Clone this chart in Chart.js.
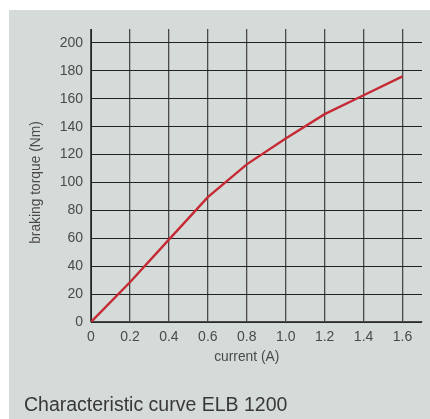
<!DOCTYPE html>
<html>
<head>
<meta charset="utf-8">
<script src="https://cdn.jsdelivr.net/npm/chart.js@4.4.1/dist/chart.umd.min.js"></script>
<style>
  html, body { margin: 0; padding: 0; background: #fff; }
  body { width: 430px; height: 419px; position: relative; overflow: hidden; }
  #panel { position: absolute; left: 9px; top: 10px; width: 421px; height: 409px; background: #d5dbd9; }
  #chart { position: absolute; left: 0; top: 0; }
</style>
</head>
<body>
<div id="panel"></div>
<canvas id="chart" width="430" height="419"></canvas>
<script>
// ELB 1200 braking torque vs. coil current

const currents = [0, 0.2, 0.4, 0.6, 0.8, 1.0, 1.2, 1.4, 1.6];
const torques = [0, 28.5, 59, 89.5, 113, 131.5, 149, 162.5, 176];
const xTicks = [0, 0.2, 0.4, 0.6, 0.8, 1.0, 1.2, 1.4, 1.6];
const yTicks = [0, 20, 40, 60, 80, 100, 120, 140, 160, 180, 200];

const FONT = "'Liberation Sans', Arial, sans-serif";
const TEXT = "#4a4a4a";

// axis titles and caption drawn on the canvas, centred on the labelled range
const labelsPlugin = {
    id: "labels",
    afterDraw(chart) {
        const { ctx, scales } = chart;
        const x = scales.x, y = scales.y;
        ctx.save();
        ctx.fillStyle = TEXT;
        ctx.font = "13.8px " + FONT;
        ctx.textAlign = "center";
        ctx.textBaseline = "middle";
        ctx.fillText("current (A)", x.getPixelForValue(0.8), 357);
        ctx.translate(36, y.getPixelForValue(100));
        ctx.rotate(-Math.PI / 2);
        ctx.fillText("braking torque (Nm)", 0, 0);
        ctx.restore();

        ctx.save();
        ctx.fillStyle = "#383838";
        ctx.font = "19.5px " + FONT;
        ctx.textAlign = "left";
        ctx.textBaseline = "alphabetic";
        ctx.fillText("Characteristic curve ELB 1200", 24, 411);
        ctx.restore();
    }
};

new Chart(document.getElementById("chart"), {
    type: "line",
    data: {
        labels: currents,
        datasets: [{
            data: currents.map((c, i) => ({ x: c, y: torques[i] })),
            borderColor: "#c62a35",
            borderWidth: 2.4,
            pointRadius: 0,
            tension: 0,
            fill: false,
        }]
    },
    options: {
        responsive: false,
        animation: false,
        layout: { padding: { left: 0, top: 29, right: 8, bottom: 0 } },
        plugins: { legend: { display: false }, tooltip: { enabled: false } },
        scales: {
            x: {
                type: "linear",
                min: 0,
                max: 1.7,
                afterBuildTicks: (s) => { s.ticks = xTicks.map(v => ({ value: v })); },
                afterFit: (s) => { s.height = 97; },
                ticks: {
                    padding: 7,
                    color: TEXT,
                    font: { family: FONT, size: 14 },
                    maxRotation: 0,
                    callback: (v) => v === 0 ? "0" : Number(v).toFixed(1),
                },
                grid: { color: "#4a4a4a", lineWidth: 1.3, drawTicks: false },
                border: { color: "#4a4a4a", width: 1.3 },
            },
            y: {
                min: 0,
                max: 210,
                afterBuildTicks: (s) => { s.ticks = yTicks.map(v => ({ value: v })); },
                afterFit: (s) => { s.width = 91; },
                ticks: {
                    padding: 8,
                    color: TEXT,
                    font: { family: FONT, size: 14 },
                },
                grid: { color: "#222", lineWidth: 1, drawTicks: false },
                border: { color: "#222", width: 1 },
            },
        },
    },
    plugins: [labelsPlugin],
});
</script>
</body>
</html>
